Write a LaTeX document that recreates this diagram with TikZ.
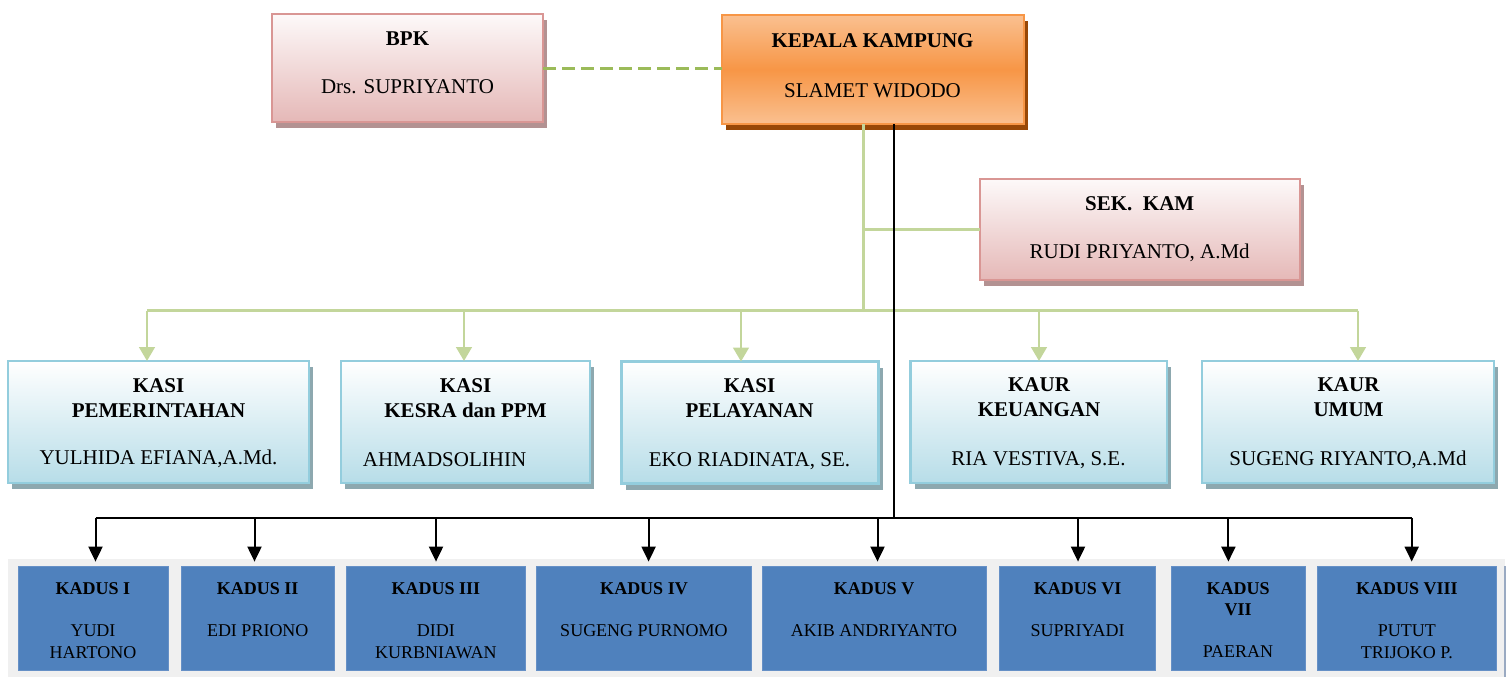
\documentclass[tikz,border=0pt]{standalone}
\usepackage{fontspec}
\setmainfont{Liberation Serif}
\usetikzlibrary{arrows.meta,shadows}
\definecolor{pinkB}{HTML}{D99694}
\definecolor{pinkT}{HTML}{FDF9F9}
\definecolor{pinkF}{HTML}{E5B8B7}
\definecolor{pinkS}{HTML}{B39292}
\definecolor{oraB}{HTML}{F79646}
\definecolor{oraL}{HTML}{FAC090}
\definecolor{oraM}{HTML}{F79646}
\definecolor{oraS}{HTML}{984807}
\definecolor{bluB}{HTML}{93CDDD}
\definecolor{bluF}{HTML}{B7DDE8}
\definecolor{bluS}{HTML}{8DA8AF}
\definecolor{kadF}{HTML}{4F81BD}
\definecolor{kadB}{HTML}{6690C6}
\definecolor{panelC}{HTML}{F0F0F0}
\definecolor{edgeC}{HTML}{9AAAC2}
\definecolor{grnL}{HTML}{C3D69B}
\definecolor{grnD}{HTML}{9BBB59}
\begin{document}
\begin{tikzpicture}[x=0.5pt,y=-0.5pt,
  box/.style={inner sep=0pt,outer sep=0pt,line width=1.2pt},
  pinkbox/.style={box,draw=pinkB,top color=pinkT,bottom color=pinkF,
     drop shadow={shadow xshift=2pt,shadow yshift=-3pt,fill=pinkS,opacity=1}},
  orabox/.style={box,draw=oraB,top color=oraL,bottom color=oraL,middle color=oraM,
     drop shadow={shadow xshift=2pt,shadow yshift=-3pt,fill=oraS,opacity=1}},
  blubox/.style={box,draw=bluB,top color=white,bottom color=bluF,
     drop shadow={shadow xshift=2pt,shadow yshift=-3pt,fill=bluS,opacity=1}},
  kadbox/.style={inner sep=0pt,outer sep=0pt,fill=kadF,draw=kadB,line width=0.5pt,minimum height=52pt},
  tb/.style={anchor=base,inner sep=0pt,font=\fontsize{10.5}{12}\selectfont\bfseries},
  tn/.style={anchor=base,inner sep=0pt,font=\fontsize{10.5}{12}\selectfont},
  kb/.style={anchor=base,inner sep=0pt,font=\fontsize{9}{11}\selectfont\bfseries},
  kn/.style={anchor=base,inner sep=0pt,font=\fontsize{9}{11}\selectfont},
  gline/.style={draw=grnL,line width=1.4pt},
  garrow/.style={gline,-{Triangle[width=7.8pt,length=7pt]},fill=grnL},
  bline/.style={draw=black,line width=1pt},
  barrow/.style={bline,-{Triangle[width=7pt,length=7.5pt]}},
  dashline/.style={draw=grnD,line width=1.5pt,dash pattern=on 6.3pt off 3.2pt}
]
\useasboundingbox (0,0) rectangle (1510,677);

% top boxes
\node[pinkbox,minimum width=135.5pt,minimum height=54pt] (bpk) at (407.5,68) {};
\node[orabox,minimum width=151pt,minimum height=54.5pt] (kep) at (873,69.5) {};
\node[pinkbox,minimum width=160pt,minimum height=50.5pt] (sek) at (1140,229.5) {};

% kasi / kaur boxes
\node[blubox,minimum width=150.5pt,minimum height=61pt] (ks1) at (158.5,422) {};
\node[blubox,minimum width=124.5pt,minimum height=61pt] (ks2) at (465.5,422) {};
\node[blubox,minimum width=128.5pt,minimum height=61pt] (ks3) at (750,422.5) {};
\node[blubox,minimum width=128.25pt,minimum height=61pt] (ku4) at (1038.75,422) {};
\node[blubox,minimum width=146pt,minimum height=61pt] (ku5) at (1348,422) {};

% bottom panel
\node[fill=panelC,inner sep=0pt,outer sep=0pt,minimum width=748.5pt,minimum height=59pt] (panel) at (756.5,618) {};
\draw[edgeC,line width=1pt] (panel.north east) ++(0,7) -- (panel.south east);

\node[kadbox,minimum width=75pt] (kd1) at (93,618.6) {};
\node[kadbox,minimum width=76.75pt] (kd2) at (257.75,618.6) {};
\node[kadbox,minimum width=89.2pt] (kd3) at (435.8,618.6) {};
\node[kadbox,minimum width=107.35pt] (kd4) at (644,618.6) {};
\node[kadbox,minimum width=112pt] (kd5) at (874,618.6) {};
\node[kadbox,minimum width=78pt] (kd6) at (1077.65,618.6) {};
\node[kadbox,minimum width=67pt] (kd7) at (1238,618.6) {};
\node[kadbox,minimum width=89.85pt] (kd8) at (1406.85,618.6) {};

% texts top
\node[tb] (bpkT) at (407.5,45) {BPK};
\node[tn] (bpkN) at (407.5,93) {Drs. SUPRIYANTO};
\node[tb] (kepT) at (872.5,47.3) {KEPALA KAMPUNG};
\node[tn] (kepN) at (872.5,97.3) {SLAMET WIDODO};
\node[tb] (sekT) at (1139.7,210) {SEK.\ \ KAM};
\node[tn] (sekN) at (1139.7,258.3) {RUDI PRIYANTO, A.Md};

% texts kasi/kaur
\node[tb] (ks1a) at (158.5,392.3) {KASI};
\node[tb] (ks1b) at (158.5,417.3) {PEMERINTAHAN};
\node[tn] (ks1c) at (158.5,464.5) {YULHIDA EFIANA,A.Md.};
\node[tb] (ks2a) at (465.5,392.3) {KASI};
\node[tb] (ks2b) at (465.5,417.3) {KESRA dan PPM};
\node[tn,anchor=base west] (ks2c) at (362.5,466) {AHMADSOLIHIN};
\node[tb] (ks3a) at (749.5,392.8) {KASI};
\node[tb] (ks3b) at (749.5,417.8) {PELAYANAN};
\node[tn] (ks3c) at (749.5,466.3) {EKO RIADINATA, SE.};
\node[tb] (ku4a) at (1039,391.7) {KAUR};
\node[tb] (ku4b) at (1039,416.7) {KEUANGAN};
\node[tn] (ku4c) at (1038.5,465) {RIA VESTIVA, S.E.};
\node[tb] (ku5a) at (1348.5,391.7) {KAUR};
\node[tb] (ku5b) at (1348.5,416.7) {UMUM};
\node[tn] (ku5c) at (1348,465) {SUGENG RIYANTO,A.Md};

% texts kadus
\node[kb] (kd1a) at (93,594.5) {KADUS I};
\node[kn] (kd1b) at (93,636.5) {YUDI};
\node[kn] (kd1c) at (93,658) {HARTONO};
\node[kb] (kd2a) at (257.75,594.5) {KADUS II};
\node[kn] (kd2b) at (257.75,636) {EDI PRIONO};
\node[kb] (kd3a) at (435.8,594.5) {KADUS III};
\node[kn] (kd3b) at (435.8,636.5) {DIDI};
\node[kn] (kd3c) at (435.8,658) {KURBNIAWAN};
\node[kb] (kd4a) at (644,594.5) {KADUS IV};
\node[kn] (kd4b) at (644,636) {SUGENG PURNOMO};
\node[kb] (kd5a) at (874,594.5) {KADUS V};
\node[kn] (kd5b) at (874,636) {AKIB ANDRIYANTO};
\node[kb] (kd6a) at (1077.65,594.5) {KADUS VI};
\node[kn] (kd6b) at (1077.65,636) {SUPRIYADI};
\node[kb] (kd7a) at (1238,594.5) {KADUS};
\node[kb] (kd7b) at (1238,615) {VII};
\node[kn] (kd7c) at (1238,657.5) {PAERAN};
\node[kb] (kd8a) at (1406.85,594.5) {KADUS VIII};
\node[kn] (kd8b) at (1406.85,636.7) {PUTUT};
\node[kn] (kd8c) at (1406.85,658.5) {TRIJOKO P.};

% dashed BPK - Kepala
\draw[dashline] (bpk.east) -- (bpk.east -| kep.west);

% green structure
\coordinate (gtop) at (863.3,124);
\coordinate (gbus) at (863.3,310.7);
\coordinate (gsek) at (863.3,229.3);
\draw[gline] (gtop) -- (gbus);
\draw[gline] (gsek) -- (gsek -| sek.west);
\coordinate (g1) at (147,310.7);
\coordinate (g2) at (464,310.7);
\coordinate (g3) at (741,310.7);
\coordinate (g4) at (1039,310.7);
\coordinate (g5) at (1358,310.7);
\draw[gline] (g1) -- (g5);
\draw[garrow] (g1) -- (g1 |- ks1.north);
\draw[garrow] (g2) -- (g2 |- ks2.north);
\draw[garrow] (g3) -- (g3 |- ks3.north);
\draw[garrow] (g4) -- (g4 |- ku4.north);
\draw[garrow] (g5) -- (g5 |- ku5.north);

% black structure
\coordinate (btop) at (893.5,124);
\coordinate (bbus) at (893.5,518.3);
\draw[bline] (btop) -- (bbus);
\coordinate (b1) at (95.5,518.3);
\coordinate (b2) at (254.5,518.3);
\coordinate (b3) at (436,518.3);
\coordinate (b4) at (648.6,518.3);
\coordinate (b5) at (877.5,518.3);
\coordinate (b6) at (1078,518.3);
\coordinate (b7) at (1228.4,518.3);
\coordinate (b8) at (1411.7,518.3);
\draw[bline] (b1) -- (b8);
\draw[barrow,shorten >=2.5pt] (b1) -- (b1 |- kd1.north);
\draw[barrow,shorten >=2.5pt] (b2) -- (b2 |- kd2.north);
\draw[barrow,shorten >=2.5pt] (b3) -- (b3 |- kd3.north);
\draw[barrow,shorten >=2.5pt] (b4) -- (b4 |- kd4.north);
\draw[barrow,shorten >=2.5pt] (b5) -- (b5 |- kd5.north);
\draw[barrow,shorten >=2.5pt] (b6) -- (b6 |- kd6.north);
\draw[barrow,shorten >=2.5pt] (b7) -- (b7 |- kd7.north);
\draw[barrow,shorten >=2.5pt] (b8) -- (b8 |- kd8.north);
\end{tikzpicture}
\end{document}
